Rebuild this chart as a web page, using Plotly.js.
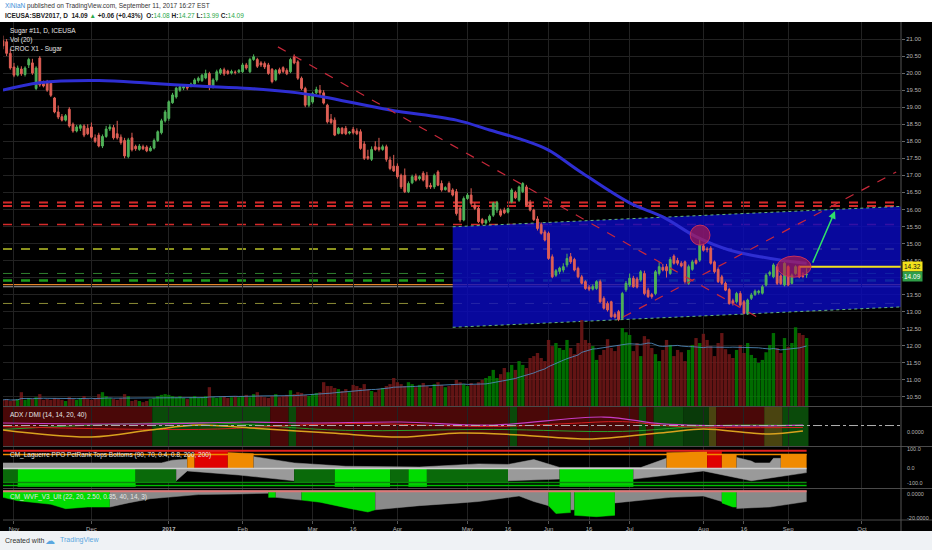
<!DOCTYPE html>
<html><head><meta charset="utf-8">
<script src="https://cdn.plot.ly/plotly-3.0.1.min.js"></script>
<style>html,body{margin:0;padding:0;background:#000;}#chart{width:932px;height:550px;}</style>
</head><body><div id="chart"></div>
<script>
// ---------- trading calendar ----------
const START = '2016-10-27';
const HOLIDAYS = ['2016-11-24','2016-12-26','2017-01-02','2017-01-16','2017-02-20','2017-04-14','2017-05-29','2017-07-04','2017-09-04'];

// ---------- OHLC (Sugar #11 SBV2017, daily, from 2016-10-27) ----------
const O = [20.95,20.92,20.58,20.18,19.94,20.12,19.96,20.24,20.30,19.55,
20.44,19.70,19.75,19.70,19.27,18.86,18.72,18.62,18.94,18.50,
18.30,18.38,18.45,18.38,18.42,18.10,18.18,17.86,18.14,18.36,
18.40,18.22,18.12,18.02,17.55,18.10,17.85,17.76,17.84,17.83,
17.72,17.80,18.02,18.25,18.60,18.67,19.13,19.30,19.50,19.56,
19.60,19.62,19.68,19.78,19.78,19.86,19.99,19.60,19.80,20.00,
20.10,20.06,20.00,20.03,20.03,20.04,20.24,20.04,20.40,20.40,
20.30,20.28,20.24,20.11,19.80,20.10,20.16,20.08,20.04,20.48,
20.33,19.85,19.55,19.06,19.15,19.42,19.50,19.42,19.06,18.65,
18.62,18.23,18.38,18.38,18.24,18.35,18.30,18.28,17.92,17.55,
17.47,17.84,17.82,17.76,17.84,17.45,17.27,17.27,17.00,17.00,
16.52,16.78,16.98,16.90,17.06,17.00,16.70,16.66,17.10,16.76,
16.58,16.76,16.57,16.52,16.03,15.69,16.32,16.42,16.12,16.03,
15.70,15.60,15.68,15.83,15.98,15.96,15.98,15.92,16.22,16.50,
16.27,16.52,16.66,16.20,15.98,15.72,15.56,15.34,15.30,14.61,
14.07,14.18,14.22,14.37,14.61,14.53,14.27,14.02,13.88,13.72,
13.66,13.68,13.88,13.39,13.24,13.29,12.92,13.00,12.80,13.64,
13.78,13.98,13.96,13.93,14.12,13.63,13.50,13.53,14.12,14.30,
14.32,14.12,14.63,14.50,14.42,14.46,13.83,14.24,14.50,14.51,
14.93,14.84,14.86,14.46,14.24,14.02,13.83,13.65,13.32,13.29,
13.53,13.29,12.95,13.39,13.50,13.56,13.54,13.78,14.10,14.02,
14.32,14.05,13.78,14.32,13.83,14.12,14.32,14.04,14.08];
const H = [21.10,21.00,20.70,20.30,20.22,20.20,20.20,20.45,20.42,20.20,
20.50,19.78,19.80,19.72,19.30,19.05,18.80,18.80,19.00,18.55,
18.48,18.50,18.50,18.50,18.55,18.20,18.25,18.20,18.45,18.50,
18.48,18.60,18.20,18.10,18.10,18.25,17.90,17.92,17.90,17.88,
17.86,18.08,18.32,18.66,18.92,19.20,19.42,19.60,19.66,19.66,
19.65,19.72,19.85,19.90,19.98,20.10,20.04,19.85,20.10,20.15,
20.16,20.10,20.10,20.08,20.12,20.30,20.30,20.45,20.55,20.45,
20.35,20.34,20.30,20.15,20.12,20.16,20.20,20.14,20.45,20.55,
20.38,19.90,19.60,19.40,19.45,19.60,19.65,19.50,19.10,18.80,
18.70,18.42,18.42,18.45,18.30,18.42,18.38,18.35,18.00,17.75,
17.85,18.00,18.10,17.90,17.90,17.55,17.60,17.35,17.05,17.20,
16.82,17.02,17.05,17.00,17.12,17.10,16.78,17.05,17.15,16.85,
16.68,16.82,16.62,16.60,16.10,16.38,16.48,16.62,16.20,16.08,
15.75,15.72,15.85,16.22,16.25,16.02,16.05,16.05,16.62,16.55,
16.70,16.80,16.72,16.28,16.02,15.80,15.62,15.40,15.35,14.68,
14.25,14.32,14.42,14.70,14.72,14.58,14.32,14.08,13.92,13.78,
13.80,13.92,13.94,13.45,13.30,13.32,12.98,13.05,13.58,13.90,
14.12,14.05,14.02,14.22,14.20,13.70,13.55,14.22,14.45,14.40,
14.40,14.60,14.68,14.58,14.48,14.50,14.38,14.52,14.56,15.12,
15.00,14.90,14.92,14.50,14.30,14.08,13.88,13.70,13.38,13.58,
13.60,13.34,13.38,13.55,13.65,13.64,13.78,14.12,14.20,14.42,
14.40,14.10,14.48,14.36,14.12,14.36,14.36,14.15,14.27];
const L = [20.70,20.50,20.10,19.88,19.90,19.92,19.90,20.15,19.95,19.50,
19.60,19.58,19.45,19.30,18.82,18.65,18.58,18.58,18.40,18.25,
18.26,18.30,18.12,18.18,18.08,17.95,17.82,17.80,18.10,18.30,
18.05,18.05,17.90,17.50,17.50,17.70,17.72,17.72,17.74,17.68,
17.70,17.76,17.98,18.20,18.55,18.60,19.10,19.25,19.45,19.50,
19.50,19.58,19.65,19.72,19.74,19.82,19.50,19.55,19.75,19.95,
19.92,19.95,19.96,19.96,20.00,20.00,20.10,20.00,20.36,20.15,
20.18,20.12,19.95,19.70,19.76,19.96,20.00,19.94,20.00,20.26,
19.80,19.50,19.00,19.00,19.10,19.38,19.35,19.08,18.52,18.50,
18.15,18.20,18.20,18.18,18.20,18.20,18.18,17.75,17.45,17.45,
17.42,17.72,17.70,17.72,17.40,17.15,17.10,16.90,16.60,16.48,
16.48,16.74,16.82,16.85,16.82,16.60,16.60,16.60,16.68,16.52,
16.55,16.50,16.38,15.82,15.62,15.65,16.28,16.12,15.98,15.60,
15.55,15.55,15.62,15.78,15.90,15.78,15.86,15.88,16.18,16.30,
16.22,16.48,16.08,15.94,15.66,15.38,15.26,15.06,14.52,13.98,
14.02,14.10,14.15,14.30,14.40,14.18,13.98,13.80,13.64,13.60,
13.62,13.64,13.25,13.06,13.00,12.82,12.80,12.72,12.76,13.58,
13.72,13.70,13.68,13.88,13.48,13.40,13.38,13.48,14.06,14.18,
14.00,14.08,14.38,14.36,14.30,13.82,13.78,14.20,14.38,14.46,
14.76,14.74,14.38,14.12,13.84,13.78,13.60,13.20,13.18,13.24,
13.14,12.92,12.90,13.34,13.46,13.50,13.50,13.74,14.04,13.98,
13.78,13.78,13.74,13.74,13.80,14.08,13.98,13.98,13.99];
const C = [20.80,20.58,20.15,19.94,20.15,19.98,20.15,20.40,20.00,20.15,
19.65,19.62,19.50,19.35,18.86,18.71,18.62,18.75,18.45,18.30,
18.42,18.46,18.18,18.22,18.12,18.00,17.86,18.14,18.36,18.42,
18.10,18.10,17.96,17.57,18.04,17.75,17.78,17.86,17.78,17.72,
17.80,18.02,18.28,18.60,18.86,19.16,19.36,19.56,19.60,19.60,
19.56,19.68,19.80,19.85,19.94,19.99,19.60,19.80,20.04,20.10,
19.98,19.99,20.05,20.02,20.08,20.24,20.15,20.40,20.48,20.20,
20.24,20.18,19.99,19.75,20.08,20.00,20.05,19.98,20.40,20.30,
19.85,19.55,19.06,19.35,19.40,19.52,19.42,19.12,18.57,18.55,
18.18,18.38,18.23,18.22,18.27,18.25,18.22,17.79,17.50,17.50,
17.76,17.76,17.76,17.84,17.47,17.20,17.13,16.96,16.66,16.52,
16.76,16.96,16.86,16.96,16.86,16.66,16.66,17.00,16.71,16.57,
16.64,16.52,16.42,15.88,15.69,16.32,16.42,16.18,16.03,15.64,
15.60,15.68,15.80,16.18,16.20,15.83,15.90,16.02,16.57,16.34,
16.66,16.76,16.13,15.98,15.70,15.44,15.30,15.10,14.56,14.02,
14.20,14.28,14.32,14.56,14.46,14.22,14.02,13.83,13.68,13.66,
13.74,13.88,13.29,13.10,13.05,12.85,12.84,12.77,13.53,13.83,
13.98,13.73,13.72,14.17,13.53,13.44,13.44,14.17,14.32,14.22,
14.20,14.53,14.42,14.42,14.34,13.88,14.32,14.46,14.42,14.95,
14.80,14.82,14.42,14.17,13.88,13.83,13.63,13.24,13.24,13.53,
13.19,12.95,13.34,13.49,13.60,13.60,13.73,14.07,14.15,14.37,
13.83,13.82,14.42,13.78,14.07,14.32,14.02,14.03,14.09];
// volume, thousand contracts
const VOL = [16,18,13,16,18,36,16,21,18,23,
31,16,18,16,21,18,16,13,23,18,
16,21,26,18,16,21,31,36,26,21,
18,16,21,31,26,13,16,13,10,13,
18,21,26,29,31,29,26,23,26,21,
18,23,26,21,23,26,49,23,21,23,
26,21,23,26,23,26,29,23,31,36,
26,23,21,26,31,23,26,29,41,31,
36,34,29,26,31,34,36,62,52,52,
47,44,39,44,36,55,52,47,57,44,
39,36,44,47,52,57,73,62,57,52,
62,57,49,55,60,52,47,57,62,55,
49,52,57,68,62,57,52,60,55,62,
68,73,78,94,73,83,99,88,107,94,
117,107,99,125,130,138,125,117,172,156,
164,151,146,172,151,135,164,224,172,164,
156,120,133,146,174,151,143,159,203,192,
185,143,164,130,182,174,151,135,117,146,
172,159,130,146,140,117,146,159,177,164,
188,172,156,130,164,190,148,135,125,146,
159,138,164,133,125,112,120,140,159,190,
151,138,177,154,164,205,190,185,177];

// long moving average
const MA_DATES = ['2016-10-27','2016-11-10','2016-12-05','2016-12-23','2017-01-13','2017-02-03','2017-02-23','2017-03-06','2017-03-30','2017-04-26','2017-05-09','2017-05-22','2017-06-01','2017-06-13','2017-07-03','2017-07-17','2017-07-28','2017-08-10','2017-08-30','2017-09-11'];
const MA_VALS = [19.50,19.72,19.78,19.70,19.62,19.55,19.42,19.30,18.92,18.62,18.33,18.04,17.74,17.15,16.19,15.78,15.20,14.81,14.51,14.42];

// axis ticks
const TICK_DATES = ['2016-11-01','2016-12-01','2017-01-03','2017-02-01','2017-03-01','2017-03-16','2017-04-03','2017-05-01','2017-05-16','2017-06-01','2017-06-16','2017-07-03','2017-08-01','2017-08-16','2017-09-01','2017-10-02'];
const TICK_TEXT = ['Nov','Dec','<b>2017</b>','Feb','Mar','16','Apr','May','16','Jun','16','Jul','Aug','16','Sep','Oct'];
const PRICE_TICKS = [10.5,11,11.5,12,12.5,13,13.5,14,14.5,15,15.5,16,16.5,17,17.5,18,18.5,19,19.5,20,20.5,21];
// 14.00 sits under the last-price label, so its text is hidden as in the original
const PRICE_TEXT = ['10.50','11.00','11.50','12.00','12.50','13.00','13.50','','14.50','15.00','15.50','16.00','16.50','17.00','17.50','18.00','18.50','19.00','19.50','20.00','20.50','21.00'];

// drawings
const HLEVELS = [ // price, colour, width, dash
  [16.20,'#d42a2a',2,'dash'],[16.10,'#d42a2a',2,'dash'],[15.56,'#d42a2a',1.5,'dash'],
  [14.84,'#b9c229',1.5,'dash'],[14.12,'#2f7f2f',1,'dash'],[13.91,'#1d9d1d',2.5,'dash'],
  [13.79,'#e3832a',1.2,'solid'],[13.73,'#a8a8a8',1,'solid'],[13.24,'#8c8c36',1,'dash']];
const CHANNEL_X = ['2017-04-25','2017-10-20'];
const CHANNEL_TOP = [15.49,16.105];
const CHANNEL_BOT = [12.54,13.155];
const TREND_DOWN_X = ['2017-02-14 14:00','2017-08-21 14:00'], TREND_DOWN_Y = [20.77,12.84];
const TREND_UP_X = ['2017-06-29 05:00','2017-10-13 07:00'], TREND_UP_Y = [12.84,17.10];
const LAST_LINE_X = ['2017-09-07 03:00','2017-10-20'], LAST_LINE_Y = [14.32,14.32];
const ELLIPSES = [['2017-07-26 10:00','2017-08-02 19:00',14.95,15.54],['2017-08-29 00:00','2017-09-12 05:00',14.01,14.63]];

// ADX / DMI pane
const ADX_BG = [ // from, to, colour
  ['2016-10-26 12:00','2016-12-23 12:00','#4a0808'],['2016-12-23 12:00','2017-02-10 12:00','#0a4a0a'],
  ['2017-02-10 12:00','2017-02-17 12:00','#4a0808'],['2017-02-17 12:00','2017-02-22 12:00','#0a4a0a'],
  ['2017-02-22 12:00','2017-05-16 12:00','#4a0808'],['2017-05-16 12:00','2017-05-18 12:00','#0a4a0a'],
  ['2017-05-18 12:00','2017-07-06 12:00','#4a0808'],['2017-07-06 12:00','2017-07-10 12:00','#0a4a0a'],
  ['2017-07-10 12:00','2017-07-12 12:00','#4a0808'],['2017-07-12 12:00','2017-07-24 12:00','#0c4c0c'],
  ['2017-07-24 12:00','2017-08-02 12:00','#093a09'],['2017-08-02 12:00','2017-08-04 12:00','#4a4410'],
  ['2017-08-04 12:00','2017-08-23 12:00','#4a0808'],['2017-08-23 12:00','2017-08-30 12:00','#4a4410'],
  ['2017-08-30 12:00','2017-09-11 12:00','#0a4a0a']];
const ADX_DATES = ['2016-10-27','2016-12-01','2016-12-23','2017-01-13','2017-02-03','2017-03-08','2017-04-04','2017-04-27','2017-05-19','2017-06-15','2017-07-03','2017-07-19','2017-08-01','2017-08-18','2017-08-25','2017-09-08'];
const ADX_VALS = [16.4,9.2,16.4,21.5,18.5,13.3,9.2,13.3,11.3,7.2,10.3,14.4,17.4,13.3,12.3,15.4];
const ADXM_DATES = ['2016-10-27','2016-12-23','2017-02-03','2017-02-28','2017-04-04','2017-05-10','2017-06-22','2017-07-17','2017-08-18','2017-09-08'];
const ADXM_VALS = [23.6,22.6,24.6,23.6,24.6,21.5,29.7,22.6,20.5,21.5];
const DIM_DATES = ['2016-10-27','2017-01-13','2017-03-14','2017-05-10','2017-06-08','2017-06-29','2017-07-21','2017-09-08'];
const DIM_VALS = [20,17,23,20,23,25,20,19];
const DIP_DATES = ['2016-10-27','2017-01-13','2017-03-14','2017-05-10','2017-06-29','2017-08-04','2017-09-08'];
const DIP_VALS = [17,24,16,17,15,21,21];

// Laguerre PPO pane: [colour, dates, values]
const LAG_TOP = [
  ['#9a9a9a',['2016-10-27','2016-11-30','2016-12-29','2017-01-04','2017-01-10'],[30,32,30,45,50]],
  ['#f08a00',['2017-01-10','2017-01-12'],[76,76]],
  ['#e00000',['2017-01-12','2017-01-26'],[97,97]],
  ['#f08a00',['2017-01-26','2017-02-06'],[86,80]],
  ['#9a9a9a',['2017-02-06','2017-02-22','2017-03-14','2017-04-11','2017-05-04','2017-05-12','2017-05-16','2017-05-25','2017-06-06','2017-07-07','2017-07-18'],[64,30,12,8,25,20,22,48,6,5,55]],
  ['#f08a00',['2017-07-18','2017-08-02'],[85,92]],
  ['#e00000',['2017-08-02','2017-08-08'],[92,92]],
  ['#f08a00',['2017-08-08','2017-08-14'],[76,76]],
  ['#9a9a9a',['2017-08-14','2017-08-18','2017-08-21','2017-08-25','2017-08-28','2017-08-30'],[60,40,30,30,55,55]],
  ['#f08a00',['2017-08-30','2017-09-11'],[76,76]]];
const LAG_BOT = [
  ['#0a6a0a',['2016-10-27','2016-11-02'],[-75,-75]],
  ['#00dc00',['2016-11-02','2016-12-19'],[-97,-97]],
  ['#0a6a0a',['2016-12-19','2017-01-05'],[-75,-75]],
  ['#9a9a9a',['2017-01-05','2017-01-10','2017-01-31','2017-02-22'],[-66,-13,-35,-66]],
  ['#0a6a0a',['2017-02-22','2017-03-09'],[-75,-75]],
  ['#00dc00',['2017-03-09','2017-03-30'],[-97,-97]],
  ['#0a6a0a',['2017-03-30','2017-04-06'],[-75,-75]],
  ['#00dc00',['2017-04-06','2017-04-13'],[-97,-97]],
  ['#0a6a0a',['2017-04-13','2017-05-16'],[-75,-75]],
  ['#9a9a9a',['2017-05-16','2017-06-06'],[-66,-57]],
  ['#00dc00',['2017-06-06','2017-07-05'],[-97,-97]],
  ['#9a9a9a',['2017-07-05','2017-08-01','2017-08-18','2017-09-11'],[-57,-13,-66,-22]]];
const LAG_LEVELS = [[96,'#e02020',2],[76,'#f08a00',1.5],[0,'#cfcfcf',1.5],[-75,'#0a8a0a',1.5],[-92,'#00c000',1.5]];

// Williams VIX Fix pane
const WVF = [
  ['#00dc00',['2016-10-27','2016-11-02','2016-11-15','2016-11-21','2016-11-30','2016-12-08'],[-5,-7.4,-10,-13.2,-12,-12]],
  ['#8a8a8a',['2016-12-08','2016-12-15','2016-12-23','2017-01-13','2017-01-31','2017-02-10'],[-12,-9,-6,-3,-2.5,-2]],
  ['#00dc00',['2017-02-10','2017-02-14'],[-5,-5]],
  ['#8a8a8a',['2017-02-14','2017-02-24'],[-5,-7]],
  ['#00dc00',['2017-02-24','2017-03-03','2017-03-15','2017-03-22','2017-03-24'],[-7,-8.5,-13,-15.6,-14]],
  ['#8a8a8a',['2017-03-24','2017-04-11','2017-04-27','2017-05-04','2017-05-19','2017-05-25','2017-06-01'],[-14,-11,-9,-8,-4,-8,-11]],
  ['#00dc00',['2017-06-01','2017-06-05','2017-06-09'],[-11,-16.7,-16]],
  ['#8a8a8a',['2017-06-09','2017-06-12'],[-14,-14]],
  ['#00dc00',['2017-06-12','2017-06-20','2017-06-27'],[-18,-19,-18]],
  ['#8a8a8a',['2017-06-27','2017-07-07','2017-07-19','2017-08-01','2017-08-08'],[-9,-7,-5,-4,-8]],
  ['#00dc00',['2017-08-08','2017-08-11','2017-08-14'],[-9,-12,-12]],
  ['#8a8a8a',['2017-08-14','2017-08-25','2017-09-11'],[-13,-12,-8]]];

// ---------- build ----------
function buildDays(n){
  const out=[]; let t=Date.parse(START+'T00:00:00Z');
  while(out.length<n){
    const d=new Date(t), wd=d.getUTCDay(), s=d.toISOString().slice(0,10);
    if(wd!==0 && wd!==6 && HOLIDAYS.indexOf(s)<0) out.push(s);
    t+=86400000;
  }
  return out;
}
const ALLDAYS = buildDays(260);
const DATES = ALLDAYS.slice(0, C.length);
function at(f){ const i=Math.floor(f), fr=f-i; const t=Date.parse(ALLDAYS[i]+'T00:00:00Z')+fr*86400000; return new Date(t).toISOString().slice(0,19).replace('T',' '); }
const FIRST = DATES[0], LASTD = DATES[DATES.length-1];

const up = C.map((c,i)=>c>=O[i]);
const VOL_MA = VOL.map((v,i)=>{const s=VOL.slice(Math.max(0,i-19),i+1); return s.reduce((a,b)=>a+b,0)/s.length;});

const traces = [];
// channel (base price axis, drawn first)
traces.push({type:'scatter',x:[CHANNEL_X[0],CHANNEL_X[1],CHANNEL_X[1],CHANNEL_X[0],CHANNEL_X[0]],y:[CHANNEL_TOP[0],CHANNEL_TOP[1],CHANNEL_BOT[1],CHANNEL_BOT[0],CHANNEL_TOP[0]],fill:'toself',fillcolor:'rgba(10,10,195,0.80)',line:{width:0},mode:'lines',hoverinfo:'skip',xaxis:'x',yaxis:'y'});
traces.push({type:'scatter',x:CHANNEL_X,y:CHANNEL_TOP,mode:'lines',line:{color:'rgba(110,200,130,0.9)',width:1,dash:'dot'},hoverinfo:'skip',xaxis:'x',yaxis:'y'});
traces.push({type:'scatter',x:CHANNEL_X,y:CHANNEL_BOT,mode:'lines',line:{color:'rgba(110,200,130,0.9)',width:1,dash:'dot'},hoverinfo:'skip',xaxis:'x',yaxis:'y'});
// volume (overlay y2)
traces.push({type:'bar',x:DATES,y:VOL,marker:{color:up.map(u=>u?'rgba(0,135,0,0.8)':'rgba(115,24,24,0.85)'),line:{width:0}},hoverinfo:'skip',xaxis:'x',yaxis:'y2'});
traces.push({type:'scatter',x:DATES,y:VOL_MA,mode:'lines',line:{color:'rgba(80,140,190,0.85)',width:1},hoverinfo:'skip',xaxis:'x',yaxis:'y2'});
// candles and price drawings (overlay y6, drawn above the channel)
traces.push({type:'candlestick',x:DATES,open:O,high:H,low:L,close:C,whiskerwidth:0,
  increasing:{line:{color:'#4fb259',width:1},fillcolor:'#4fb259'},
  decreasing:{line:{color:'#df5f55',width:1},fillcolor:'#df5f55'},
  hoverinfo:'skip',xaxis:'x',yaxis:'y6'});
traces.push({type:'scatter',x:MA_DATES,y:MA_VALS,mode:'lines',line:{color:'#2e2ed2',width:3,shape:'spline'},hoverinfo:'skip',xaxis:'x',yaxis:'y6'});
traces.push({type:'scatter',x:TREND_DOWN_X,y:TREND_DOWN_Y,mode:'lines',line:{color:'#c8283a',width:1.2,dash:'dash'},hoverinfo:'skip',xaxis:'x',yaxis:'y6'});
traces.push({type:'scatter',x:TREND_UP_X,y:TREND_UP_Y,mode:'lines',line:{color:'#c8283a',width:1.2,dash:'dash'},hoverinfo:'skip',xaxis:'x',yaxis:'y6'});
traces.push({type:'scatter',x:LAST_LINE_X,y:LAST_LINE_Y,mode:'lines',line:{color:'#f3e21c',width:2},hoverinfo:'skip',xaxis:'x',yaxis:'y6'});
// ADX pane
traces.push({type:'scatter',x:DIP_DATES,y:DIP_VALS,mode:'lines',line:{color:'#2aa02a',width:1,shape:'spline'},hoverinfo:'skip',xaxis:'x',yaxis:'y3'});
traces.push({type:'scatter',x:DIM_DATES,y:DIM_VALS,mode:'lines',line:{color:'#d42020',width:1,shape:'spline'},hoverinfo:'skip',xaxis:'x',yaxis:'y3'});
traces.push({type:'scatter',x:ADXM_DATES,y:ADXM_VALS,mode:'lines',line:{color:'#c63cc6',width:1.2,shape:'spline'},hoverinfo:'skip',xaxis:'x',yaxis:'y3'});
traces.push({type:'scatter',x:ADX_DATES,y:ADX_VALS,mode:'lines',line:{color:'#d9a21e',width:1.5,shape:'spline'},hoverinfo:'skip',xaxis:'x',yaxis:'y3'});
// Laguerre pane
LAG_TOP.concat(LAG_BOT).forEach(s=>traces.push({type:'scatter',x:s[1],y:s[2],mode:'lines',fill:'tozeroy',fillcolor:s[0],line:{color:s[0],width:0.5},hoverinfo:'skip',xaxis:'x',yaxis:'y4'}));
LAG_LEVELS.forEach(l=>traces.push({type:'scatter',x:[FIRST,LASTD],y:[l[0],l[0]],mode:'lines',line:{color:l[1],width:l[2]},hoverinfo:'skip',xaxis:'x',yaxis:'y4'}));
// WVF pane
WVF.forEach(s=>traces.push({type:'scatter',x:s[1],y:s[2],mode:'lines',fill:'tozeroy',fillcolor:s[0],line:{color:s[0],width:0.5},hoverinfo:'skip',xaxis:'x',yaxis:'y5'}));
traces.push({type:'scatter',x:[FIRST,LASTD],y:[-0.6,-0.6],mode:'lines',line:{color:'#e07878',width:2},hoverinfo:'skip',xaxis:'x',yaxis:'y5'});

// pixel helpers for paper coords (plot area: x 3..901, y 22..520)
const px = X => (X-3)/898, py = Y => (520-Y)/498;

const shapes = [];
shapes.push({type:'rect',xref:'paper',yref:'paper',x0:-0.01,x1:1.04,y0:1,y1:1.06,fillcolor:'#ffffff',line:{width:0},layer:'above'});
shapes.push({type:'rect',xref:'paper',yref:'paper',x0:-0.01,x1:1.04,y0:py(531),y1:-0.07,fillcolor:'#eff2f5',line:{width:0},layer:'above'});
HLEVELS.forEach(h=>shapes.push({type:'line',xref:'paper',yref:'y',x0:0,x1:1,y0:h[0],y1:h[0],line:{color:h[1],width:h[2],dash:h[3]},layer:'below'}));
ADX_BG.forEach(b=>shapes.push({type:'rect',xref:'x',yref:'y3 domain',x0:b[0],x1:b[1],y0:0,y1:1,fillcolor:b[2],line:{width:0},layer:'below'}));
shapes.push({type:'line',xref:'paper',yref:'y3',x0:0,x1:1,y0:21,y1:21,line:{color:'#b0b0b0',width:1,dash:'dashdot'},layer:'above'});
ELLIPSES.forEach(e=>shapes.push({type:'circle',xref:'x',yref:'y',x0:e[0],x1:e[1],y0:e[2],y1:e[3],fillcolor:'rgba(190,28,70,0.62)',line:{color:'rgba(210,50,90,0.9)',width:1},layer:'above'}));
[406.5,446.5,488.5,520].forEach(Y=>shapes.push({type:'line',xref:'paper',yref:'paper',x0:0,x1:1.04,y0:py(Y),y1:py(Y),line:{color:'#4a4a4a',width:1},layer:'above'}));
shapes.push({type:'line',xref:'paper',yref:'paper',x0:1,x1:1,y0:py(531),y1:1,line:{color:'#555',width:1},layer:'above'});

const F = 'Liberation Sans, Arial, sans-serif';
const ann = [];
const txt = (t,X,Y,opts) => ann.push(Object.assign({text:t,xref:'paper',yref:'paper',x:px(X),y:py(Y),xanchor:'left',yanchor:'middle',showarrow:false,font:{family:F,size:6.5,color:'#e6e6e6'}},opts||{}));
txt('<span style="color:#3b8fd8">XiNiaN</span> published on TradingView.com, September 11, 2017 16:27 EST',3,6,{font:{family:F,size:6.5,color:'#333'}});
txt('<b>ICEUSA:SBV2017, D  14.09 </b><span style="color:#2ba84a">▲</span><b> +0.06 (+0.43%)  O:</b><span style="color:#2ba84a">14.08</span><b> H:</b><span style="color:#2ba84a">14.27</span><b> L:</b><span style="color:#2ba84a">13.99</span><b> C:</b><span style="color:#2ba84a">14.09</span>',3,16,{font:{family:F,size:6.5,color:'#222'}});
txt('Sugar #11, D, ICEUSA',8,31);
txt('Vol (20)',8,40);
txt('CROC X1 - Sugar',8,49);
txt('ADX / DMI (14, 14, 20, 40)',8,415);
txt('CM_Laguerre PPO PctRank Tops Bottoms (90, 70, 0.4, 0.8, 200, 200)',8,455);
txt('CM_WVF_V3_Ult (22, 20, 2.50, 0.85, 40, 14, 3)',8,497);
txt('Created with',3,540,{font:{family:F,size:7,color:'#333'}});
txt('☁',43,540,{font:{family:'DejaVu Sans',size:10,color:'#5aa7e0'}});
txt('TradingView',58,540,{font:{family:F,size:7,color:'#5aa7e0'}});
// right-scale labels of the lower panes
const scaleTxt = (t,Y,anchor) => ann.push({text:t,xref:'paper',yref:'paper',x:px(905),y:py(Y),xanchor:'left',yanchor:anchor,showarrow:false,font:{family:F,size:5.5,color:'#b5b5b5'}});
scaleTxt('0.0000',432,'middle');
scaleTxt('100.0',448.5,'middle');
scaleTxt('0.0',467.5,'middle');
scaleTxt('-100.0',487.5,'bottom');
scaleTxt('0.0000',489,'top');
scaleTxt('-20.0000',517.5,'middle');
// last price labels on the price scale
ann.push({text:'14.32',xref:'paper',yref:'y',x:1.001,y:14.32,xanchor:'left',yanchor:'middle',showarrow:false,bgcolor:'#f3e21c',font:{family:F,size:6.5,color:'#111'},borderpad:1});
ann.push({text:'14.09',xref:'paper',yref:'y',x:1.001,y:14.09,yshift:-2,xanchor:'left',yanchor:'middle',showarrow:false,bgcolor:'#2f9e48',font:{family:F,size:6.5,color:'#fff'},borderpad:1});
// projection arrow
ann.push({text:'',xref:'x',yref:'y',x:'2017-09-20 17:00',y:15.95,ax:-23,ay:53,showarrow:true,arrowhead:2,arrowsize:1,arrowwidth:1.5,arrowcolor:'#2fe06a'});

const tickF = {family:F,size:6,color:'#b5b5b5'};
const hiddenY = {showticklabels:false,showgrid:false,zeroline:false,ticks:'',fixedrange:true};
const layout = {
  width:932,height:550,margin:{l:3,r:31,t:22,b:30},
  paper_bgcolor:'#000',plot_bgcolor:'#000',showlegend:false,bargap:0.1,
  font:{family:F,size:6.5,color:'#ccc'},
  xaxis:{type:'date',rangebreaks:[{bounds:['sat','mon']},{values:HOLIDAYS}],
    range:[at(0.02),at(243.6)],tickmode:'array',tickvals:TICK_DATES,ticktext:TICK_TEXT,
    showgrid:true,gridcolor:'#222',gridwidth:1,anchor:'y5',ticks:'outside',ticklen:3,tickcolor:'#555',
    tickfont:tickF,showline:false,zeroline:false,rangeslider:{visible:false},fixedrange:true},
  yaxis:{domain:[py(406),1],range:[10.23,21.5],side:'right',anchor:'x',tickmode:'array',tickvals:PRICE_TICKS,ticktext:PRICE_TEXT,
    showgrid:true,gridcolor:'#222',ticks:'outside',ticklen:3,tickcolor:'#666',tickfont:tickF,zeroline:false,fixedrange:true},
  yaxis2:{overlaying:'y',anchor:'x',range:[0,1000],visible:false,fixedrange:true},
  yaxis6:{overlaying:'y',anchor:'x',range:[10.23,21.5],visible:false,fixedrange:true},
  yaxis3:Object.assign({domain:[py(446),py(407)],range:[0,40],anchor:'x'},hiddenY),
  yaxis4:Object.assign({domain:[py(488),py(447)],range:[-105,116],anchor:'x'},hiddenY),
  yaxis5:Object.assign({domain:[0,py(489)],range:[-21.4,1.05],anchor:'x'},hiddenY),
  shapes:shapes,annotations:ann
};
Plotly.newPlot('chart',traces,layout,{displayModeBar:false,staticPlot:true});
</script></body></html>
